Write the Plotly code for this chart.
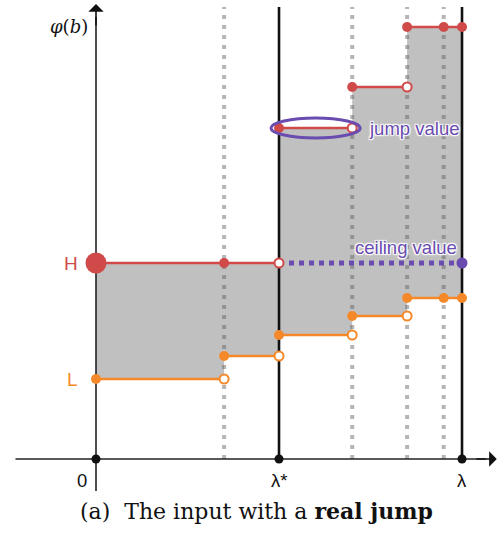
import plotly.graph_objects as go

# ---- data ----
lam_star = 5.0
lam = 10.0
grid_x = [3.5, 7.0, 8.5, 9.5]                 # dotted guide positions
high_starts = [0.0, 5.0, 7.0, 8.5]             # red step starts
high_vals = [9.8, 16.55, 18.6, 21.6]          # red step values
low_starts = [0.0, 3.5, 5.0, 7.0, 8.5]         # orange step starts
low_vals = [4.0, 5.15, 6.2, 7.15, 8.05]        # orange step values
x_ticks = [0.0, lam_star, lam]
x_tick_labels = ["0", "λ*", "λ"]

# ---- styles ----
RED = "#cf4a48"
ORANGE = "#f5892a"
PURPLE = "#6a4bb0"
GREY_FILL = "#c0c0c0"
DOT_GREY = "rgba(90,90,90,0.45)"
AX = "#222222"

y_top = 22.6
x_left, x_right = -2.2, 10.95
y_bottom = -1.6

fig = go.Figure()

# grey fill between the two step curves
fig.add_trace(go.Scatter(x=low_starts + [lam], y=low_vals + [low_vals[-1]],
                         mode="lines", line=dict(width=0, shape="hv"),
                         hoverinfo="skip"))
fig.add_trace(go.Scatter(x=high_starts + [lam], y=high_vals + [high_vals[-1]],
                         mode="lines", line=dict(width=0, shape="hv"),
                         fill="tonexty", fillcolor=GREY_FILL, hoverinfo="skip"))

# dotted guide lines
for gx in grid_x:
    fig.add_trace(go.Scatter(x=[gx, gx], y=[0, y_top], mode="lines",
                             line=dict(color=DOT_GREY, width=4, dash="4px,6px"),
                             hoverinfo="skip"))

# axes
fig.add_trace(go.Scatter(x=[x_left, x_right - 0.3], y=[0, 0], mode="lines",
                         line=dict(color=AX, width=1.6), hoverinfo="skip"))
fig.add_trace(go.Scatter(x=[0, 0], y=[y_bottom, y_top - 0.5], mode="lines",
                         line=dict(color=AX, width=1.6), hoverinfo="skip"))
# solid lambda lines
for sx in [lam_star, lam]:
    fig.add_trace(go.Scatter(x=[sx, sx], y=[0, y_top], mode="lines",
                             line=dict(color="#111111", width=2.6), hoverinfo="skip"))

# ceiling dotted line
fig.add_trace(go.Scatter(x=[lam_star, lam], y=[high_vals[0], high_vals[0]], mode="lines",
                         line=dict(color=PURPLE, width=5, dash="5px,5px"), hoverinfo="skip"))


def draw_steps(starts, vals, color):
    ends = starts[1:] + [lam]
    for s, e, v in zip(starts, ends, vals):
        fig.add_trace(go.Scatter(x=[s, e], y=[v, v], mode="lines",
                                 line=dict(color=color, width=2.6), hoverinfo="skip"))
    # filled dots at step starts
    fig.add_trace(go.Scatter(x=starts, y=vals, mode="markers",
                             marker=dict(color=color, size=10), hoverinfo="skip"))
    # open dots at step ends where a jump occurs
    fig.add_trace(go.Scatter(x=starts[1:], y=vals[:-1], mode="markers",
                             marker=dict(color="white", size=9,
                                         line=dict(color=color, width=2)),
                             hoverinfo="skip"))
    # filled dots on guides / lambda where no jump occurs
    xs, ys = [], []
    for gx in grid_x + [lam]:
        if gx not in starts:
            k = max(i for i, s in enumerate(starts) if s <= gx)
            xs.append(gx)
            ys.append(vals[k])
    fig.add_trace(go.Scatter(x=xs, y=ys, mode="markers",
                             marker=dict(color=color, size=10), hoverinfo="skip"))


draw_steps(low_starts, low_vals, ORANGE)
draw_steps(high_starts, high_vals, RED)

# big H dot
fig.add_trace(go.Scatter(x=[0], y=[high_vals[0]], mode="markers",
                         marker=dict(color=RED, size=21), hoverinfo="skip"))
# purple ceiling end dot
fig.add_trace(go.Scatter(x=[lam], y=[high_vals[0]], mode="markers",
                         marker=dict(color=PURPLE, size=11), hoverinfo="skip"))
# black axis dots
fig.add_trace(go.Scatter(x=x_ticks, y=[0] * len(x_ticks), mode="markers",
                         marker=dict(color="#111111", size=9), hoverinfo="skip"))

# ellipse around the jump segment
fig.add_shape(type="circle", xref="x", yref="y",
              x0=high_starts[1] - 0.22, x1=high_starts[2] + 0.22,
              y0=high_vals[1] - 0.5, y1=high_vals[1] + 0.5,
              line=dict(color=PURPLE, width=3))

halo = "1px 1px 1px white, -1px -1px 1px white, 1px -1px 1px white, -1px 1px 1px white, 0 0 3px white"
ann = []
ann.append(dict(x=high_starts[2], y=high_vals[1], text="jump value", xanchor="left",
                xshift=15, yshift=0, showarrow=False,
                font=dict(family="Liberation Sans", size=18.5, color=PURPLE, shadow=halo)))
ann.append(dict(x=lam, y=high_vals[0], text="ceiling value", xanchor="right",
                xshift=-3, yshift=16, showarrow=False,
                font=dict(family="Liberation Sans", size=18.5, color=PURPLE, shadow=halo)))
ann.append(dict(x=0, y=high_vals[0], text="H", xanchor="right", xshift=-16,
                showarrow=False, font=dict(family="Liberation Sans", size=19, color=RED)))
ann.append(dict(x=0, y=low_vals[0], text="L", xanchor="right", xshift=-16,
                showarrow=False, font=dict(family="Liberation Sans", size=19, color=ORANGE)))
for tx, tl, xs in zip(x_ticks, x_tick_labels, [-14, 0, 0]):
    ann.append(dict(x=tx, y=0, text=tl, xanchor="center", yanchor="middle",
                    xshift=xs, yshift=-21, showarrow=False,
                    font=dict(family="Liberation Sans", size=18.5, color="#111111")))
ann.append(dict(x=0, y=y_top, text="<i>φ</i>(<i>b</i>)", xanchor="right", yanchor="middle",
                xshift=-6, yshift=-19, showarrow=False,
                font=dict(family="DejaVu Serif", size=18, color="#111111")))
# axis arrowheads
ann.append(dict(x=0, y=y_top + 0.15, ax=0, ay=y_top - 1.0, xref="x", yref="y",
                axref="x", ayref="y", showarrow=True, arrowhead=1, arrowsize=1.6,
                arrowwidth=1.6, arrowcolor="#111111", text=""))
ann.append(dict(x=x_right, y=0, ax=x_right - 0.6, ay=0, xref="x", yref="y",
                axref="x", ayref="y", showarrow=True, arrowhead=1, arrowsize=1.6,
                arrowwidth=1.6, arrowcolor="#111111", text=""))
# caption
ann.append(dict(x=0.5, y=0.047, xref="paper", yref="paper", xanchor="center",
                yanchor="middle", showarrow=False, xshift=6,
                text="(a)  The input with a <b>real jump</b>",
                font=dict(family="DejaVu Serif", size=22, color="#111111")))

fig.update_layout(
    width=500, height=536,
    margin=dict(l=0, r=0, t=0, b=0),
    paper_bgcolor="white", plot_bgcolor="white",
    showlegend=False,
    annotations=ann,
    xaxis=dict(visible=False, range=[-2.623, 11.038], fixedrange=True),
    yaxis=dict(visible=False, range=[-3.85, 22.95], fixedrange=True),
)

fig.write_html("out.html", config={"displayModeBar": False},
               post_script="document.body.style.margin='0';document.body.style.overflow='hidden';")
